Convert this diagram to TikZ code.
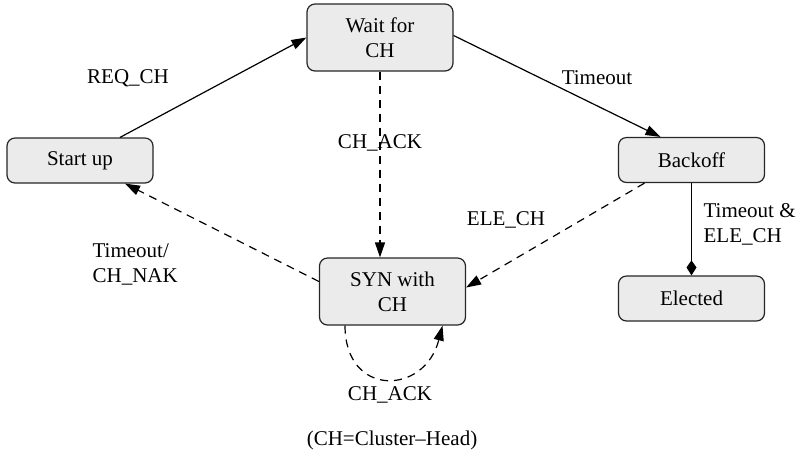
\documentclass[tikz,border=0pt]{standalone}
\usepackage{fontspec}
\setmainfont{Liberation Serif}
\usetikzlibrary{arrows.meta}

\begin{document}
\begin{tikzpicture}
  [
  x=0.5pt, y=-0.5pt,
  font=\fontsize{10.5}{12.5}\selectfont, line width=0.6pt,
  stbox/.style={rectangle, rounded corners=4pt, draw=black!85, fill=black!8, align=center,
    minimum width=73pt, minimum height=22.5pt, inner sep=0pt},
  tallbox/.style={stbox, minimum height=33.5pt},
  trans/.style={-{Triangle[length=7.5pt,width=5pt]}},
  maybe/.style={trans, dash pattern=on 4pt off 3pt},
  lbl/.style={inner sep=0pt}
  ]
\useasboundingbox (0,0) rectangle (798,463);

\node[tallbox] (wait) at (380,37.5) {Wait for\\CH};
\node[stbox] (startup) at (80,160.5) {Start up};
\node[tallbox] (syn) at (392.5,291.5) {SYN with\\CH};
\node[stbox] (backoff) at (691.5,160) {Backoff};
\node[stbox] (elected) at (691.5,298.5) {Elected};

\draw[trans] ([xshift=20pt]startup.north) -- (wait.west);
\draw[trans] ([yshift=1pt]wait.east) -- ([xshift=-15.5pt]backoff.north);
\draw[maybe] (wait.south) -- (wait.south |- syn.north);
\draw[maybe] ([xshift=-23.5pt]backoff.south) -- ([yshift=2pt]syn.east);
\draw[maybe] ([yshift=5pt]syn.west) -- ([xshift=22.5pt]startup.south);
\draw[-{Kite[length=7.5pt,width=5pt,inset=3.5pt]}] (backoff) -- (elected);
\draw[maybe] ([xshift=-23.75pt]syn.south) .. controls +(0,72) and +(-18,70) .. ([xshift=25pt]syn.south);

\node[lbl] (reqch) at (128,78) {REQ\_CH};
\node[lbl] (timeout) at (597,78) {Timeout};
\node[lbl] (chack) at (380,143) {CH\_ACK};
\node[lbl] (elech) at (506,220) {ELE\_CH};
\node[lbl, align=left, anchor=west] (nak) at (92,264.5) {Timeout/\\CH\_NAK};
\node[lbl, align=left, anchor=west] (toele) at (703,224.5) {Timeout \&\\ELE\_CH};
\node[lbl] (loopack) at (390,395) {CH\_ACK};
\node[lbl] (note) at (392,440) {(CH=Cluster--Head)};

\end{tikzpicture}
\end{document}
